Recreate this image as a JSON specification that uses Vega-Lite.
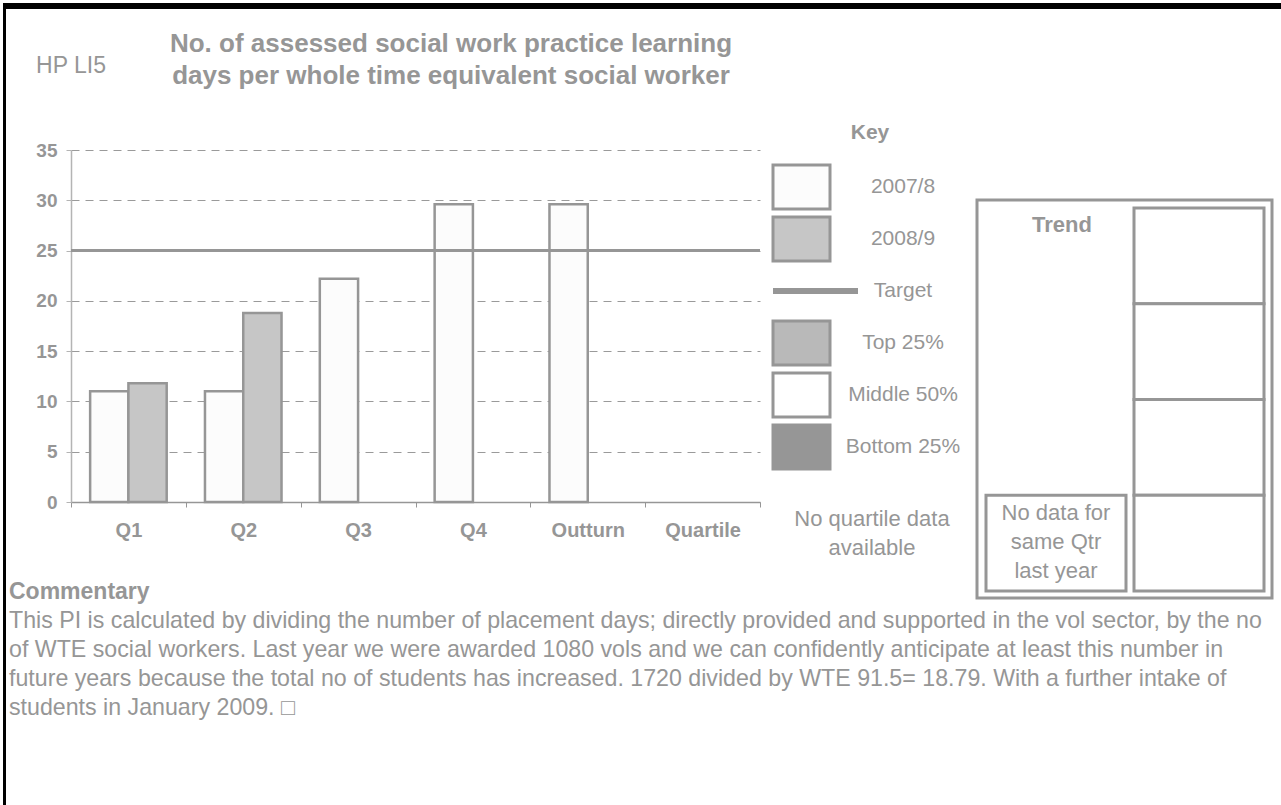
{
  "$schema": "https://vega.github.io/schema/vega-lite/v6.json",
  "width": 689,
  "height": 352,
  "autosize": {"type": "none"},
  "padding": {"left": 71, "top": 150, "right": 521, "bottom": 303},
  "background": "white",
  "config": {
    "view": {"stroke": null},
    "font": "Liberation Sans",
    "text": {"font": "Liberation Sans", "fill": "#969696"}
  },
  "datasets": {
    "frame": [{"part": "frame"}],
    "bars": [
      {"period": "Q1", "year": "2007/8", "value": 11.0},
      {"period": "Q1", "year": "2008/9", "value": 11.8},
      {"period": "Q2", "year": "2007/8", "value": 11.0},
      {"period": "Q2", "year": "2008/9", "value": 18.79},
      {"period": "Q3", "year": "2007/8", "value": 22.2},
      {"period": "Q4", "year": "2007/8", "value": 29.6},
      {"period": "Outturn", "year": "2007/8", "value": 29.6}
    ],
    "target": [{"name": "Target", "value": 25}],
    "key": [
      {"panel": "Key", "item": "2007/8"},
      {"panel": "Key", "item": "2008/9"},
      {"panel": "Key", "item": "Target"},
      {"panel": "Key", "item": "Top 25%"},
      {"panel": "Key", "item": "Middle 50%"},
      {"panel": "Key", "item": "Bottom 25%"}
    ],
    "trend": [
      {"panel": "Trend", "row": 1},
      {"panel": "Trend", "row": 2},
      {"panel": "Trend", "row": 3},
      {"panel": "Trend", "row": 4}
    ],
    "commentary": [
      {"section": "Commentary", "line": 0, "text": "Commentary"},
      {"section": "Commentary", "line": 1, "text": "This PI is calculated by dividing the number of placement days; directly provided and supported in the vol sector, by the no"},
      {"section": "Commentary", "line": 2, "text": "of WTE social workers. Last year we were awarded 1080 vols and we can confidently anticipate at least this number in"},
      {"section": "Commentary", "line": 3, "text": "future years because the total no of students has increased. 1720 divided by WTE 91.5= 18.79. With a further intake of"},
      {"section": "Commentary", "line": 4, "text": "students in January 2009.   □"}
    ]
  },
  "layer": [
    {
      "data": {"name": "frame"},
      "mark": {"type": "rect", "fill": "black"},
      "encoding": {
        "x": {"field": "part", "type": "nominal", "scale": {"type": "band", "range": [-68, 1210], "paddingInner": 0, "paddingOuter": 0}, "axis": null},
        "y": {"field": "part", "type": "nominal", "scale": {"type": "band", "range": [-147, -141], "paddingInner": 0, "paddingOuter": 0}, "axis": null}
      }
    },
    {
      "data": {"name": "frame"},
      "mark": {"type": "rect", "fill": "black"},
      "encoding": {
        "x": {"field": "part", "type": "nominal", "scale": {"type": "band", "range": [-68, -65], "paddingInner": 0, "paddingOuter": 0}, "axis": null},
        "y": {"field": "part", "type": "nominal", "scale": {"type": "band", "range": [-147, 655], "paddingInner": 0, "paddingOuter": 0}, "axis": null}
      }
    },
    {
      "data": {"values": [{"code": "HP LI5"}]},
      "mark": {"type": "text", "align": "center", "baseline": "middle", "fontSize": 23, "fill": "#969696"},
      "encoding": {
        "text": {"field": "code"},
        "x": {"field": "code", "type": "nominal", "scale": {"type": "point", "range": [0, 0]}, "axis": null},
        "y": {"field": "code", "type": "nominal", "scale": {"type": "point", "range": [-84, -84]}, "axis": null}
      }
    },
    {
      "data": {"values": [{"title": "No. of assessed social work practice learning\ndays per whole time equivalent social worker"}]},
      "mark": {"type": "text", "align": "center", "baseline": "middle", "fontSize": 26, "fontWeight": "bold", "lineBreak": "\n", "lineHeight": 32, "fill": "#969696"},
      "encoding": {
        "text": {"field": "title"},
        "x": {"field": "title", "type": "nominal", "scale": {"type": "point", "range": [380, 380]}, "axis": null},
        "y": {"field": "title", "type": "nominal", "scale": {"type": "point", "range": [-106, -106]}, "axis": null}
      }
    },
    {
      "data": {"name": "bars"},
      "layer": [
        {
          "mark": {"type": "bar", "stroke": "#969696", "strokeWidth": 2.5},
          "encoding": {
            "x": {
              "field": "period", "type": "nominal", "sort": null,
              "scale": {"domain": ["Q1", "Q2", "Q3", "Q4", "Outturn", "Quartile"], "paddingInner": 0, "paddingOuter": 0},
              "axis": {
                "title": null, "labelAngle": 0, "labelFontSize": 20, "labelFontWeight": "bold", "labelColor": "#969696",
                "labelPadding": 13, "domainColor": "#969696", "domainWidth": 1.5, "tickColor": "#969696", "tickSize": 5,
                "tickBand": "extent", "grid": false
              }
            },
            "xOffset": {"field": "year", "type": "nominal", "scale": {"domain": ["2007/8", "2008/9"], "paddingInner": 0, "paddingOuter": 0.5}},
            "y": {
              "field": "value", "type": "quantitative",
              "scale": {"domain": [0, 35], "nice": false},
              "axis": {
                "title": null, "values": [0, 5, 10, 15, 20, 25, 30, 35], "labelFontSize": 19, "labelFontWeight": "bold",
                "labelColor": "#969696", "labelPadding": 9, "tickSize": 5, "tickColor": "#b4b4b4", "domainColor": "#b4b4b4",
                "domainWidth": 1.5, "grid": true, "gridDash": [8, 6], "gridColor": "#9a9a9a", "gridWidth": 1
              }
            },
            "fill": {"field": "year", "type": "nominal", "scale": {"domain": ["2007/8", "2008/9"], "range": ["#fcfcfc", "#c6c6c6"]}, "legend": null}
          }
        },
        {
          "data": {"name": "target"},
          "mark": {"type": "rule", "stroke": "#969696", "strokeWidth": 3},
          "encoding": {"y": {"field": "value", "type": "quantitative"}}
        }
      ]
    },
    {
      "data": {"name": "key"},
      "resolve": {"scale": {"x": "independent"}},
      "layer": [
        {
          "transform": [{"filter": "datum.item !== 'Target'"}],
          "mark": {"type": "rect", "stroke": "#969696", "strokeWidth": 3},
          "encoding": {
            "x": {"field": "panel", "type": "nominal", "scale": {"type": "band", "range": [702, 759], "paddingInner": 0, "paddingOuter": 0}, "axis": null},
            "y": {"field": "item", "type": "nominal", "scale": {"type": "band", "domain": ["2007/8", "2008/9", "Target", "Top 25%", "Middle 50%", "Bottom 25%"], "range": [11, 323], "paddingInner": 0.154, "paddingOuter": 0.077}, "axis": null},
            "fill": {"field": "item", "type": "nominal", "scale": {"domain": ["2007/8", "2008/9", "Top 25%", "Middle 50%", "Bottom 25%"], "range": ["#fcfcfc", "#c6c6c6", "#b9b9b9", "#ffffff", "#969696"]}, "legend": null}
          }
        },
        {
          "transform": [{"filter": "datum.item === 'Target'"}],
          "mark": {"type": "rect", "fill": "#969696", "height": 6},
          "encoding": {
            "x": {"field": "panel", "type": "nominal", "scale": {"type": "band", "range": [702, 787], "paddingInner": 0, "paddingOuter": 0}, "axis": null},
            "y": {"field": "item", "type": "nominal", "scale": {"type": "band", "domain": ["2007/8", "2008/9", "Target", "Top 25%", "Middle 50%", "Bottom 25%"], "range": [11, 323], "paddingInner": 0.154, "paddingOuter": 0.077}, "axis": null}
          }
        },
        {
          "mark": {"type": "text", "align": "center", "baseline": "middle", "fontSize": 21, "fill": "#969696"},
          "encoding": {
            "text": {"field": "item"},
            "x": {"field": "panel", "type": "nominal", "scale": {"type": "band", "range": [832, 832], "paddingInner": 0, "paddingOuter": 0}, "axis": null},
            "y": {"field": "item", "type": "nominal", "scale": {"type": "band", "domain": ["2007/8", "2008/9", "Target", "Top 25%", "Middle 50%", "Bottom 25%"], "range": [11, 323], "paddingInner": 0.154, "paddingOuter": 0.077}, "axis": null}
          }
        }
      ]
    },
    {
      "data": {"values": [{"heading": "Key"}]},
      "mark": {"type": "text", "align": "center", "baseline": "middle", "fontSize": 21, "fontWeight": "bold", "fill": "#969696"},
      "encoding": {
        "text": {"field": "heading"},
        "x": {"field": "heading", "type": "nominal", "scale": {"type": "point", "range": [799, 799]}, "axis": null},
        "y": {"field": "heading", "type": "nominal", "scale": {"type": "point", "range": [-17, -17]}, "axis": null}
      }
    },
    {
      "data": {"values": [{"note": "No quartile data\navailable"}]},
      "mark": {"type": "text", "align": "center", "baseline": "middle", "fontSize": 22, "lineBreak": "\n", "lineHeight": 29, "fill": "#969696"},
      "encoding": {
        "text": {"field": "note"},
        "x": {"field": "note", "type": "nominal", "scale": {"type": "point", "range": [801, 801]}, "axis": null},
        "y": {"field": "note", "type": "nominal", "scale": {"type": "point", "range": [369, 369]}, "axis": null}
      }
    },
    {
      "data": {"values": [{"panel": "Trend"}]},
      "mark": {"type": "rect", "fill": "white", "stroke": "#969696", "strokeWidth": 3},
      "encoding": {
        "x": {"field": "panel", "type": "nominal", "scale": {"type": "band", "range": [906, 1201], "paddingInner": 0, "paddingOuter": 0}, "axis": null},
        "y": {"field": "panel", "type": "nominal", "scale": {"type": "band", "range": [50, 448], "paddingInner": 0, "paddingOuter": 0}, "axis": null}
      }
    },
    {
      "data": {"name": "trend"},
      "resolve": {"scale": {"x": "independent"}},
      "layer": [
        {
          "mark": {"type": "rect", "fill": "white", "stroke": "#969696", "strokeWidth": 3},
          "encoding": {
            "x": {"field": "panel", "type": "nominal", "scale": {"type": "band", "range": [1063, 1193], "paddingInner": 0, "paddingOuter": 0}, "axis": null},
            "y": {"field": "row", "type": "ordinal", "scale": {"type": "band", "domain": [1, 2, 3, 4], "range": [58, 441], "paddingInner": 0, "paddingOuter": 0}, "axis": null}
          }
        },
        {
          "transform": [{"filter": "datum.row === 4"}],
          "mark": {"type": "rect", "fill": "white", "stroke": "#969696", "strokeWidth": 3},
          "encoding": {
            "x": {"field": "panel", "type": "nominal", "scale": {"type": "band", "range": [915, 1055], "paddingInner": 0, "paddingOuter": 0}, "axis": null},
            "y": {"field": "row", "type": "ordinal", "scale": {"type": "band", "domain": [1, 2, 3, 4], "range": [58, 441], "paddingInner": 0, "paddingOuter": 0}, "axis": null}
          }
        },
        {
          "transform": [{"filter": "datum.row === 4"}],
          "mark": {"type": "text", "align": "center", "baseline": "middle", "fontSize": 22, "lineBreak": "\n", "lineHeight": 29, "dy": 18, "fill": "#969696"},
          "encoding": {
            "text": {"value": "No data for\nsame Qtr\nlast year"},
            "x": {"field": "panel", "type": "nominal", "scale": {"type": "band", "range": [915, 1055], "paddingInner": 0, "paddingOuter": 0}, "axis": null},
            "y": {"field": "row", "type": "ordinal", "bandPosition": 0, "scale": {"type": "band", "domain": [1, 2, 3, 4], "range": [58, 441], "paddingInner": 0, "paddingOuter": 0}, "axis": null}
          }
        },
        {
          "transform": [{"filter": "datum.row === 1"}],
          "mark": {"type": "text", "align": "center", "baseline": "middle", "fontSize": 22, "fontWeight": "bold", "dx": 6, "dy": 17, "fill": "#969696"},
          "encoding": {
            "text": {"field": "panel"},
            "x": {"field": "panel", "type": "nominal", "scale": {"type": "band", "range": [915, 1055], "paddingInner": 0, "paddingOuter": 0}, "axis": null},
            "y": {"field": "row", "type": "ordinal", "bandPosition": 0, "scale": {"type": "band", "domain": [1, 2, 3, 4], "range": [58, 441], "paddingInner": 0, "paddingOuter": 0}, "axis": null}
          }
        }
      ]
    },
    {
      "data": {"name": "commentary"},
      "layer": [
        {
          "transform": [{"filter": "datum.line === 0"}],
          "mark": {"type": "text", "align": "left", "baseline": "middle", "fontSize": 23, "fontWeight": "bold", "fill": "#969696"},
          "encoding": {
            "text": {"field": "text"},
            "x": {"field": "section", "type": "nominal", "scale": {"type": "point", "range": [-62, -62]}, "axis": null},
            "y": {"field": "line", "type": "ordinal", "scale": {"type": "point", "domain": [0, 1, 2, 3, 4], "range": [442, 558], "padding": 0}, "axis": null}
          }
        },
        {
          "transform": [{"filter": "datum.line > 0"}],
          "mark": {"type": "text", "align": "left", "baseline": "middle", "fontSize": 23.2, "fill": "#969696"},
          "encoding": {
            "text": {"field": "text"},
            "x": {"field": "section", "type": "nominal", "scale": {"type": "point", "range": [-62, -62]}, "axis": null},
            "y": {"field": "line", "type": "ordinal", "scale": {"type": "point", "domain": [0, 1, 2, 3, 4], "range": [442, 558], "padding": 0}, "axis": null}
          }
        }
      ]
    }
  ],
  "resolve": {"scale": {"x": "independent", "y": "independent", "fill": "independent"}}
}
